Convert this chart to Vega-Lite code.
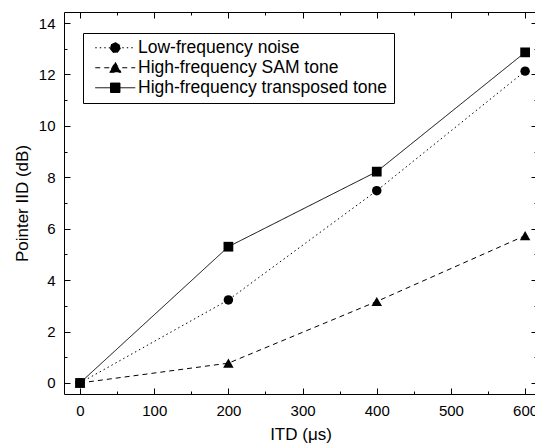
{
  "$schema": "https://vega.github.io/schema/vega-lite/v6.json",
  "width": 473,
  "height": 382,
  "autosize": "none",
  "padding": {"left": 64, "top": 12, "right": 0, "bottom": 52},
  "background": "white",
  "config": {
    "font": "Liberation Sans",
    "view": {"stroke": null},
    "axis": {
      "grid": false,
      "domainColor": "black",
      "domainWidth": 1,
      "tickColor": "black",
      "tickWidth": 1,
      "labelColor": "black",
      "titleColor": "black",
      "labelFont": "Liberation Sans",
      "titleFont": "Liberation Sans",
      "labelFontSize": 15,
      "titleFontSize": 17,
      "titleFontWeight": "normal"
    }
  },
  "data": {
    "values": [
      {"series": "Low-frequency noise", "itd": 0, "iid": 0},
      {"series": "Low-frequency noise", "itd": 200, "iid": 3.23},
      {"series": "Low-frequency noise", "itd": 400, "iid": 7.48},
      {"series": "Low-frequency noise", "itd": 600, "iid": 12.13},
      {"series": "High-frequency SAM tone", "itd": 0, "iid": 0},
      {"series": "High-frequency SAM tone", "itd": 200, "iid": 0.77},
      {"series": "High-frequency SAM tone", "itd": 400, "iid": 3.17},
      {"series": "High-frequency SAM tone", "itd": 600, "iid": 5.73},
      {"series": "High-frequency transposed tone", "itd": 0, "iid": 0},
      {"series": "High-frequency transposed tone", "itd": 200, "iid": 5.3},
      {"series": "High-frequency transposed tone", "itd": 400, "iid": 8.22},
      {"series": "High-frequency transposed tone", "itd": 600, "iid": 12.86}
    ]
  },
  "layer": [
    {
      "mark": {"type": "line", "color": "black", "strokeWidth": 1},
      "encoding": {
        "x": {
          "field": "itd", "type": "quantitative",
          "scale": {"domain": [-21.6, 616], "nice": false, "zero": false},
          "axis": {
            "orient": "bottom",
            "values": [0, 50, 100, 150, 200, 250, 300, 350, 400, 450, 500, 550, 600],
            "labelExpr": "datum.value % 100 === 0 ? datum.label : ''",
            "title": "ITD (μs)",
            "tickSize": 0,
            "labelPadding": 9,
            "titlePadding": 8,
            "labelFlush": false,
            "labelOverlap": false,
            "encoding": {"ticks": {"y2": {"condition": {"test": "datum.value % 100 === 0", "value": -6}, "value": -3}}}
          }
        },
        "y": {
          "field": "iid", "type": "quantitative",
          "scale": {"domain": [-0.43, 14.43], "nice": false, "zero": false},
          "axis": {
            "orient": "left",
            "values": [0, 1, 2, 3, 4, 5, 6, 7, 8, 9, 10, 11, 12, 13, 14],
            "labelExpr": "datum.value % 2 === 0 ? datum.label : ''",
            "title": "Pointer IID (dB)",
            "tickSize": 0,
            "labelPadding": 9,
            "titlePadding": 7,
            "labelFlush": false,
            "labelOverlap": false,
            "encoding": {"ticks": {"x2": {"condition": {"test": "datum.value % 2 === 0", "value": 6}, "value": 3}}}
          }
        },
        "strokeDash": {
          "field": "series", "type": "nominal",
          "scale": {
            "domain": ["Low-frequency noise", "High-frequency SAM tone", "High-frequency transposed tone"],
            "range": [[1.5, 3], [5, 4], [1, 0]]
          },
          "legend": {
            "orient": "none", "legendX": 19, "legendY": 21, "title": null, "direction": "vertical",
            "strokeColor": "black", "fillColor": "white", "padding": 6, "cornerRadius": 0,
            "labelFont": "Liberation Sans", "labelFontSize": 17.5, "labelColor": "black", "labelLimit": 400,
            "symbolSize": 100, "symbolOffset": 17.5, "labelOffset": 14, "rowPadding": 1,
            "symbolStrokeWidth": 1, "symbolStrokeColor": "black", "symbolFillColor": "black",
            "encoding": {"symbols": {
              "fill": {"value": "black"}, "stroke": {"value": "black"}, "strokeWidth": {"value": 1}, "opacity": {"value": 1},
              "shape": {"value": {"expr": "datum.value === 'Low-frequency noise' ? 'M-4,0H4M1,0A1,1 0 1,1 -1,0A1,1 0 1,1 1,0Z' : datum.value === 'High-frequency SAM tone' ? 'M-4,0H4M0,-1.1L1.15,0.9L-1.15,0.9Z' : 'M-4,0H4M-0.95,-0.95H0.95V0.95H-0.95Z'"}}
            }}
          }
        }
      }
    },
    {
      "transform": [{"filter": "datum.series === 'Low-frequency noise'"}],
      "mark": {"type": "point", "shape": "circle", "filled": true, "color": "black", "opacity": 1, "size": 90},
      "encoding": {
        "x": {
          "field": "itd", "type": "quantitative",
          "scale": {"domain": [-21.6, 616], "nice": false, "zero": false},
          "axis": {
            "orient": "top",
            "values": [0, 50, 100, 150, 200, 250, 300, 350, 400, 450, 500, 550, 600],
            "labels": false, "title": null, "tickSize": 0,
            "encoding": {"ticks": {"y2": {"condition": {"test": "datum.value % 100 === 0", "value": 6}, "value": 3}}}
          }
        },
        "y": {
          "field": "iid", "type": "quantitative",
          "scale": {"domain": [-0.43, 14.43], "nice": false, "zero": false},
          "axis": {
            "orient": "right",
            "values": [0, 1, 2, 3, 4, 5, 6, 7, 8, 9, 10, 11, 12, 13, 14],
            "labels": false, "title": null, "tickSize": 0,
            "encoding": {"ticks": {"x2": {"condition": {"test": "datum.value % 2 === 0", "value": -6}, "value": -3}}}
          }
        }
      }
    },
    {
      "transform": [{"filter": "datum.series === 'High-frequency SAM tone'"}],
      "mark": {"type": "point", "shape": "triangle-up", "filled": true, "color": "black", "opacity": 1, "size": 110},
      "encoding": {
        "x": {"field": "itd", "type": "quantitative", "scale": {"domain": [-21.6, 616], "nice": false, "zero": false}, "axis": null},
        "y": {"field": "iid", "type": "quantitative", "scale": {"domain": [-0.43, 14.43], "nice": false, "zero": false}, "axis": null}
      }
    },
    {
      "transform": [{"filter": "datum.series === 'High-frequency transposed tone'"}],
      "mark": {"type": "point", "shape": "square", "filled": true, "color": "black", "opacity": 1, "size": 95},
      "encoding": {
        "x": {"field": "itd", "type": "quantitative", "scale": {"domain": [-21.6, 616], "nice": false, "zero": false}, "axis": null},
        "y": {"field": "iid", "type": "quantitative", "scale": {"domain": [-0.43, 14.43], "nice": false, "zero": false}, "axis": null}
      }
    }
  ],
  "resolve": {"axis": {"x": "independent", "y": "independent"}}
}
